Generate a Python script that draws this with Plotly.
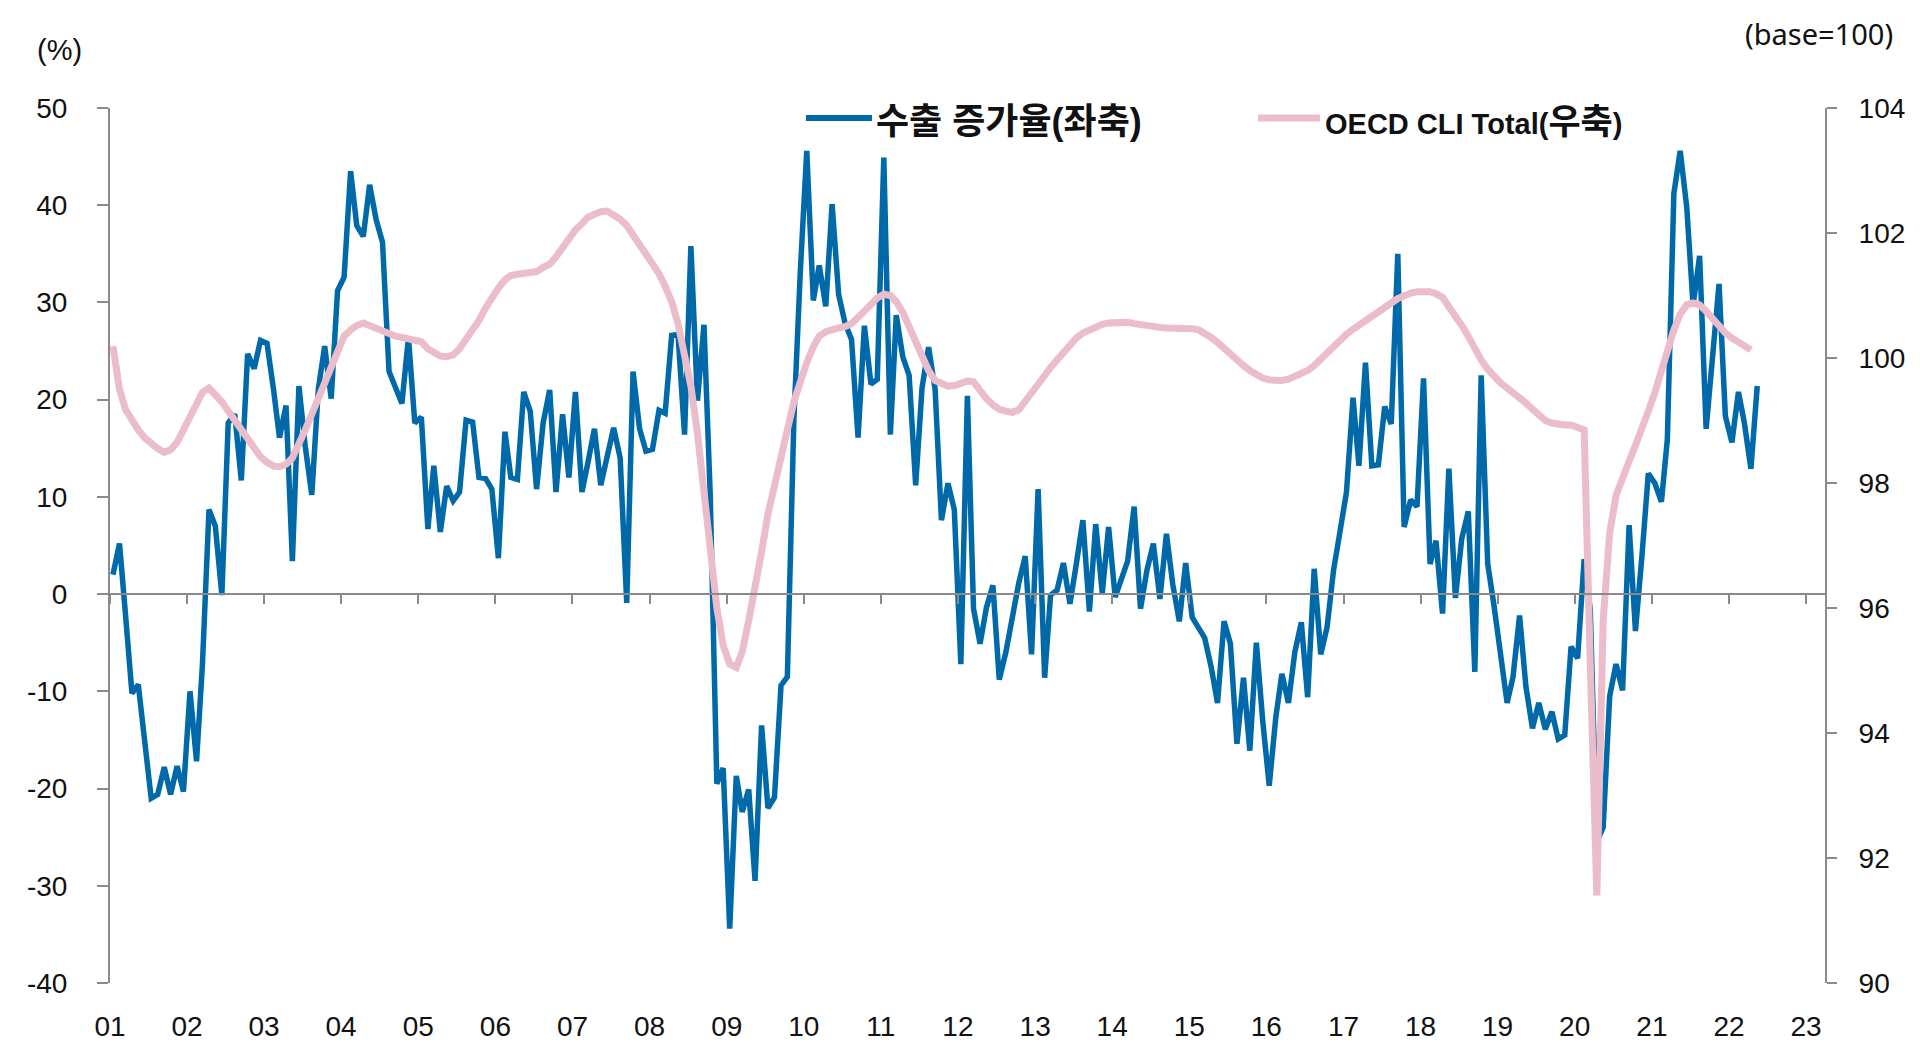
import pandas as pd
import plotly.graph_objects as go

# 수출 증가율 (전년동월비, %) 2001.01 ~ 2022.05, 월별
export_2001 = [2.0, 5.2, -2.0, -10.2, -9.3, -15.0, -21.0, -20.6, -17.8, -20.6, -17.7, -20.3]
export_2002 = [-10.0, -17.2, -7.2, 8.7, 7.0, -0.1, 17.6, 18.5, 11.7, 24.7, 23.2, 26.1]
export_2003 = [25.8, 21.0, 16.1, 19.4, 3.4, 21.4, 15.2, 10.2, 21.1, 25.5, 20.1, 31.2]
export_2004 = [32.6, 43.5, 37.9, 36.8, 42.1, 38.5, 36.2, 22.9, 21.1, 19.6, 26.4, 17.6]
export_2005 = [18.2, 6.7, 13.2, 6.4, 11.1, 9.6, 10.5, 17.9, 17.7, 12.0, 11.9, 10.8]
export_2006 = [3.7, 16.7, 12.0, 11.8, 20.8, 18.8, 10.8, 17.6, 21.0, 10.5, 18.5, 12.0]
export_2007 = [20.8, 10.5, 13.5, 17.0, 11.2, 14.0, 17.1, 14.0, -0.9, 22.9, 17.0, 14.7]
export_2008 = [14.9, 18.9, 18.6, 26.6, 26.7, 16.4, 35.8, 19.9, 27.7, 10.0, -19.5, -17.9]
export_2009 = [-34.4, -18.7, -22.4, -20.1, -29.5, -13.5, -22.0, -20.9, -9.4, -8.5, 18.0, 33.0]
export_2010 = [45.6, 30.2, 33.8, 29.6, 40.1, 30.8, 27.9, 26.2, 16.1, 27.6, 21.6, 22.1]
export_2011 = [44.9, 16.4, 28.7, 24.4, 22.5, 11.2, 21.2, 25.4, 21.1, 7.6, 11.4, 8.7]
export_2012 = [-7.2, 20.4, -1.5, -5.1, -1.4, 0.9, -8.8, -6.0, -2.0, 1.1, 3.9, -6.2]
export_2013 = [10.8, -8.6, -0.1, 0.4, 3.2, -1.0, 3.1, 7.6, -1.8, 7.2, 0.1, 6.9]
export_2014 = [-0.3, 1.8, 3.4, 9.0, -1.5, 2.5, 5.2, -0.5, 6.2, 1.0, -2.8, 3.2]
export_2015 = [-2.4, -3.5, -4.5, -7.5, -11.2, -2.8, -5.1, -15.4, -8.6, -16.1, -5.0, -13.0]
export_2016 = [-19.7, -12.7, -8.2, -11.2, -6.0, -2.9, -10.6, 2.6, -6.2, -3.4, 2.5, 6.4]
export_2017 = [10.5, 20.2, 13.2, 23.8, 13.2, 13.3, 19.3, 17.5, 35.0, 6.9, 9.7, 9.0]
export_2018 = [22.2, 3.1, 5.5, -2.0, 12.9, -0.4, 5.7, 8.5, -8.0, 22.5, 3.1, -1.2]
export_2019 = [-6.0, -11.2, -8.5, -2.2, -9.5, -13.8, -11.2, -13.9, -12.1, -14.9, -14.5, -5.4]
export_2020 = [-6.6, 3.6, -1.6, -25.5, -24.0, -10.5, -7.2, -9.9, 7.1, -3.8, 4.0, 12.4]
export_2021 = [11.4, 9.5, 15.9, 41.2, 45.6, 39.8, 29.7, 34.8, 17.0, 24.0, 31.9, 18.3]
export_2022 = [15.6, 20.8, 17.6, 12.9, 21.4]

# OECD CLI Total (base=100) 2001.01 ~ 2022.04, 월별
cli_2001 = [100.19, 99.5, 99.18, 99.0, 98.85, 98.72, 98.63, 98.55, 98.49, 98.53, 98.65, 98.85]
cli_2002 = [99.05, 99.3, 99.45, 99.52, 99.43, 99.3, 99.15, 99.0, 98.85, 98.7, 98.55, 98.42]
cli_2003 = [98.33, 98.27, 98.26, 98.3, 98.4, 98.6, 98.85, 99.1, 99.35, 99.62, 99.9, 100.15]
cli_2004 = [100.35, 100.45, 100.52, 100.56, 100.52, 100.46, 100.42, 100.37, 100.35, 100.33, 100.3, 100.27]
cli_2005 = [100.26, 100.15, 100.08, 100.03, 100.02, 100.05, 100.15, 100.3, 100.45, 100.6, 100.8, 100.98]
cli_2006 = [101.12, 101.25, 101.32, 101.34, 101.35, 101.37, 101.38, 101.45, 101.5, 101.62, 101.78, 101.92]
cli_2007 = [102.05, 102.15, 102.25, 102.3, 102.34, 102.35, 102.3, 102.22, 102.12, 101.97, 101.85, 101.68]
cli_2008 = [101.5, 101.35, 101.15, 100.9, 100.55, 100.0, 99.55, 98.8, 97.9, 96.9, 96.0, 95.4]
cli_2009 = [95.1, 95.05, 95.3, 95.8, 96.3, 96.9, 97.5, 98.0, 98.4, 98.85, 99.3, 99.65]
cli_2010 = [99.93, 100.18, 100.35, 100.42, 100.46, 100.48, 100.5, 100.55, 100.65, 100.75, 100.87, 100.96]
cli_2011 = [101.02, 101.0, 100.9, 100.73, 100.5, 100.25, 99.98, 99.8, 99.64, 99.58, 99.55, 99.56]
cli_2012 = [99.6, 99.63, 99.62, 99.47, 99.35, 99.25, 99.18, 99.15, 99.13, 99.17, 99.3, 99.45]
cli_2013 = [99.55, 99.72, 99.85, 99.98, 100.1, 100.22, 100.32, 100.4, 100.45, 100.5, 100.54, 100.56]
cli_2014 = [100.57, 100.58, 100.57, 100.55, 100.53, 100.51, 100.5, 100.49, 100.48, 100.48, 100.48, 100.48]
cli_2015 = [100.47, 100.45, 100.4, 100.33, 100.25, 100.15, 100.05, 99.97, 99.88, 99.8, 99.73, 99.68]
cli_2016 = [99.65, 99.64, 99.64, 99.66, 99.7, 99.75, 99.8, 99.88, 99.98, 100.1, 100.2, 100.3]
cli_2017 = [100.38, 100.46, 100.53, 100.6, 100.67, 100.74, 100.81, 100.88, 100.95, 101.0, 101.04, 101.06]
cli_2018 = [101.07, 101.06, 101.03, 100.97, 100.82, 100.68, 100.52, 100.35, 100.15, 99.97, 99.82, 99.7]
cli_2019 = [99.6, 99.52, 99.45, 99.37, 99.28, 99.18, 99.08, 99.0, 98.96, 98.94, 98.93, 98.93]
cli_2020 = [98.9, 98.85, 95.1, 91.4, 95.8, 97.2, 97.8, 98.1, 98.35, 98.6, 98.85, 99.15]
cli_2021 = [99.45, 99.8, 100.15, 100.45, 100.7, 100.85, 100.88, 100.85, 100.75, 100.62, 100.5, 100.4]
cli_2022 = [100.32, 100.25, 100.18, 100.13]

year_labels = [f"{y:02d}" for y in range(1, 24)]
left_ticks = [-40, -30, -20, -10, 0, 10, 20, 30, 40, 50]
right_ticks = [90, 92, 94, 96, 98, 100, 102, 104]

export_growth = (export_2001 + export_2002 + export_2003 + export_2004 + export_2005 + export_2006
                 + export_2007 + export_2008 + export_2009 + export_2010 + export_2011 + export_2012
                 + export_2013 + export_2014 + export_2015 + export_2016 + export_2017 + export_2018
                 + export_2019 + export_2020 + export_2021 + export_2022)
oecd_cli = (cli_2001 + cli_2002 + cli_2003 + cli_2004 + cli_2005 + cli_2006 + cli_2007 + cli_2008
            + cli_2009 + cli_2010 + cli_2011 + cli_2012 + cli_2013 + cli_2014 + cli_2015 + cli_2016
            + cli_2017 + cli_2018 + cli_2019 + cli_2020 + cli_2021 + cli_2022)

# 월 중간에 점을 찍음 (엑셀 카테고리 축처럼)
months_export = pd.date_range("2001-01-01", periods=len(export_growth), freq="MS") + pd.Timedelta(days=14)
months_cli = pd.date_range("2001-01-01", periods=len(oecd_cli), freq="MS") + pd.Timedelta(days=14)
year_ticks = pd.date_range("2001-01-01", periods=len(year_labels), freq="YS")

BLUE = "#0069AA"
PINK = "#EBBCCA"
AXIS = "#8A8A8A"
TXT = "#111111"
FONT = "Liberation Sans, Arial, Noto Sans CJK KR"
LEG_FONT = "Liberation Sans, Noto Sans CJK KR"
x_range = ["2001-01-01", "2023-04-01"]

fig = go.Figure()
fig.add_trace(go.Scatter(
    x=months_export, y=export_growth, mode="lines", name="수출 증가율(좌축)",
    line=dict(color=BLUE, width=5.5), xaxis="x", yaxis="y",
))
fig.add_trace(go.Scatter(
    x=months_cli, y=oecd_cli, mode="lines", name="OECD CLI Total(우축)",
    line=dict(color=PINK, width=7), xaxis="x2", yaxis="y2",
))

# 범례 (선 + 글자)
legend_shapes = [
    dict(type="line", xref="paper", yref="paper", x0=0.4058, x1=0.4443, y0=0.9886, y1=0.9886,
         line=dict(color=BLUE, width=6)),
    dict(type="line", xref="paper", yref="paper", x0=0.6694, x1=0.7055, y0=0.9886, y1=0.9886,
         line=dict(color=PINK, width=7)),
]
legend_notes = [
    dict(text="<b>수출 증가율(좌축)</b>", xref="paper", yref="paper", x=0.4455, y=0.985,
         xanchor="left", yanchor="middle", showarrow=False,
         font=dict(family=LEG_FONT, size=36, color=TXT)),
    dict(text="<b>OECD CLI Total(<span style='font-size:35px'>우축</span>)</b>",
         xref="paper", yref="paper", x=0.7075, y=0.985,
         xanchor="left", yanchor="middle", showarrow=False,
         font=dict(family=LEG_FONT, size=29, color=TXT)),
]
unit_notes = [
    dict(text="(%)", xref="paper", yref="paper", x=-0.0297, y=1.0663,
         showarrow=False, font=dict(family=FONT, size=29, color=TXT),
         xanchor="center", yanchor="middle"),
    dict(text="(base=100)", xref="paper", yref="paper", x=1.0408, y=1.0857,
         showarrow=False, font=dict(family="Noto Sans", size=29, color=TXT),
         xanchor="right", yanchor="middle"),
]

fig.update_layout(
    width=1920, height=1060,
    paper_bgcolor="white", plot_bgcolor="white",
    margin=dict(l=102, r=103, t=100, b=85),
    font=dict(family=FONT, size=28, color=TXT),
    showlegend=False,
    # 아래쪽 연도 라벨
    xaxis=dict(
        type="date", range=x_range, showgrid=False, zeroline=False, showline=False,
        tickmode="array", tickvals=year_ticks, ticktext=year_labels,
        ticks="", ticklabelstandoff=24, tickfont=dict(size=28),
    ),
    # 0 선 위의 x 축 (눈금)
    xaxis2=dict(
        type="date", range=x_range, overlaying="x", anchor="free", position=40 / 90,
        showgrid=False, zeroline=False, showline=True, linecolor=AXIS, linewidth=2,
        tickmode="array", tickvals=year_ticks, ticks="outside", ticklen=9,
        tickcolor=AXIS, tickwidth=2, showticklabels=False,
    ),
    yaxis=dict(
        range=[-40, 50], showgrid=False, zeroline=False,
        tickmode="array", tickvals=left_ticks, ticktext=[str(v) for v in left_ticks],
        showline=True, linecolor=AXIS, linewidth=2,
        ticks="outside", ticklen=11, tickcolor=AXIS, tickwidth=2,
        ticklabelstandoff=24, tickfont=dict(size=28),
    ),
    yaxis2=dict(
        range=[90, 104], overlaying="y", side="right", anchor="x2",
        tickmode="array", tickvals=right_ticks, ticktext=[str(v) for v in right_ticks],
        showgrid=False, zeroline=False,
        showline=True, linecolor=AXIS, linewidth=2,
        ticks="outside", ticklen=10, tickcolor=AXIS, tickwidth=2,
        ticklabelstandoff=16, tickfont=dict(size=28),
    ),
    shapes=legend_shapes,
    annotations=legend_notes + unit_notes,
)

fig.write_html("out.html")
